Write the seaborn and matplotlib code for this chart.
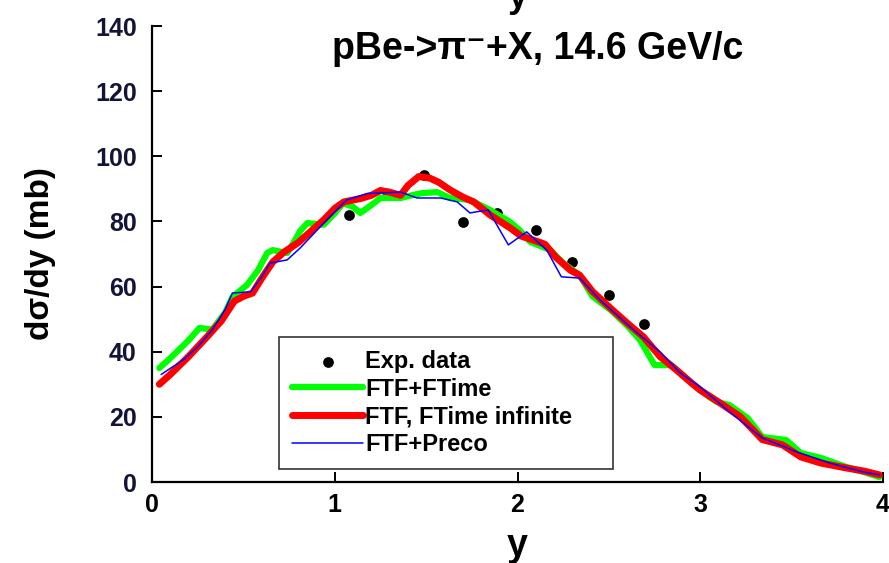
import matplotlib
matplotlib.use("Agg")
import matplotlib.pyplot as plt
import seaborn as sns
import pandas as pd

# ---------------- data ----------------
exp_x = [1.08, 1.29, 1.49, 1.70, 1.89, 2.10, 2.30, 2.50, 2.69]
exp_y = [82.0, 88.5, 94.3, 79.9, 82.5, 77.3, 67.5, 57.5, 48.6]

green_x = [0.04, 0.10, 0.20, 0.26, 0.33, 0.40, 0.44, 0.52, 0.58, 0.63, 0.66, 0.74, 0.78, 0.81,
           0.85, 0.94, 1.00, 1.045, 1.10, 1.14, 1.20, 1.25, 1.36, 1.42, 1.48, 1.56, 1.63, 1.74,
           1.85, 1.96, 2.01, 2.07, 2.18, 2.25, 2.34, 2.41, 2.51, 2.60, 2.67, 2.75, 2.84, 2.95,
           3.05, 3.09, 3.16, 3.26, 3.34, 3.47, 3.55, 3.66, 3.80, 3.90, 3.98]
green_y = [35.0, 38.0, 43.5, 47.3, 46.8, 52.0, 56.8, 60.5, 65.0, 70.3, 71.2, 70.3, 74.0, 77.0,
           79.5, 79.0, 82.5, 85.6, 84.5, 82.6, 85.0, 87.2, 87.2, 88.0, 88.7, 89.0, 87.2, 86.6,
           83.5, 79.8, 77.4, 73.7, 71.2, 67.2, 63.5, 57.0, 52.8, 48.0, 43.6, 35.9, 35.9, 30.5,
           26.1, 24.6, 23.6, 19.6, 13.8, 12.9, 8.9, 7.4, 4.6, 3.0, 1.5]

red_x = [0.04, 0.10, 0.20, 0.30, 0.38, 0.45, 0.50, 0.55, 0.60, 0.66, 0.72, 0.80, 0.86, 0.94,
         1.00, 1.05, 1.14, 1.20, 1.25, 1.30, 1.36, 1.40, 1.46, 1.52, 1.57, 1.63, 1.70, 1.76,
         1.85, 1.96, 2.02, 2.10, 2.15, 2.21, 2.29, 2.34, 2.41, 2.51, 2.60, 2.69, 2.78, 2.87,
         2.95, 3.00, 3.11, 3.22, 3.28, 3.34, 3.45, 3.55, 3.66, 3.80, 3.90, 3.98]
red_y = [30.0, 33.0, 38.5, 44.5, 49.5, 55.5, 57.0, 58.0, 62.5, 67.5, 70.5, 73.5, 76.5, 80.5,
         84.0, 86.0, 87.0, 88.0, 89.5, 89.0, 88.0, 91.0, 93.8, 93.3, 92.0, 89.7, 87.5, 86.0,
         82.0, 78.0, 75.5, 74.0, 73.0, 69.0, 65.0, 63.5, 58.5, 53.3, 48.8, 44.5, 38.5, 34.4,
         30.5, 28.2, 24.2, 20.0, 16.5, 13.0, 11.4, 7.7, 5.8, 4.3, 3.3, 2.2]

blue_x = [0.05, 0.17, 0.25, 0.33, 0.40, 0.44, 0.54, 0.60, 0.645, 0.74, 0.81, 0.94, 1.065, 1.18,
          1.36, 1.45, 1.58, 1.67, 1.74, 1.78, 1.84, 1.95, 2.05, 2.16, 2.24, 2.34, 2.45, 2.55,
          2.65, 2.78, 2.89, 3.00, 3.16, 3.34, 3.53, 3.71, 3.89, 3.98]
blue_y = [33.0, 37.5, 41.5, 46.7, 53.0, 58.0, 58.4, 63.0, 67.2, 68.2, 71.8, 79.5, 86.6, 88.6,
          89.0, 87.2, 87.2, 86.0, 82.6, 83.0, 83.5, 72.8, 76.8, 71.2, 63.0, 62.6, 56.0, 51.0,
          46.0, 40.0, 33.5, 29.2, 21.5, 13.5, 9.2, 5.8, 3.1, 2.2]

labels = ["Exp. data", "FTF+FTime", "FTF, FTime infinite", "FTF+Preco"]
x_ticks = [0, 1, 2, 3, 4]
y_ticks = [0, 20, 40, 60, 80, 100, 120, 140]

# ---------------- style ----------------
sns.set_theme(style="ticks")
plt.rcParams['font.family'] = ['Liberation Sans', 'DejaVu Sans']
plt.rcParams['text.color'] = 'black'
plt.rcParams['axes.labelcolor'] = 'black'
plt.rcParams['xtick.color'] = 'black'
plt.rcParams['ytick.color'] = 'black'

fig = plt.figure(figsize=(8.89, 5.63), dpi=100)
ax = fig.add_axes([152/889, 1-482/563, 731/889, 456/563])

exp_df = pd.DataFrame({"y": exp_x, "v": exp_y})
g_df = pd.DataFrame({"y": green_x, "v": green_y})
r_df = pd.DataFrame({"y": red_x, "v": red_y})
b_df = pd.DataFrame({"y": blue_x, "v": blue_y})

sns.scatterplot(data=exp_df, x="y", y="v", ax=ax, color="black", s=60, marker="o",
                edgecolor="black", linewidth=0, zorder=2, label=labels[0])
sns.lineplot(data=g_df, x="y", y="v", ax=ax, color="#00ff00", linewidth=4.5, sort=False,
             zorder=3, label=labels[1])
sns.lineplot(data=r_df, x="y", y="v", ax=ax, color="#ff0000", linewidth=5.0, sort=False,
             zorder=4, label=labels[2])
sns.lineplot(data=b_df, x="y", y="v", ax=ax, color="#0000ff", linewidth=1.1, sort=False,
             zorder=5, label=labels[3])

ax.set_xlim(0, 4)
ax.set_ylim(0, 140)
ax.set_xticks(x_ticks)
ax.set_yticks(y_ticks)
ax.set_xticklabels([str(t) for t in x_ticks], fontsize=18, fontweight='bold')
ax.set_yticklabels([str(t) for t in y_ticks], fontsize=18, fontweight='bold',
                   color="#14143a")
ax.tick_params(direction='in', length=7, width=1.4, pad=8)
ax.tick_params(axis='y', pad=11)
for s in ['top', 'right']:
    ax.spines[s].set_visible(False)
for s in ['left', 'bottom']:
    ax.spines[s].set_linewidth(1.6)
    ax.spines[s].set_color('black')

ax.set_xlabel("y", fontsize=27, fontweight='bold', labelpad=8)
ax.set_ylabel("dσ/dy (mb)", fontsize=24, fontweight='bold', labelpad=28)

ax.text(0.528, 0.950, "pBe->π⁻+X, 14.6 GeV/c", transform=ax.transAxes, ha='center',
        va='center', fontsize=27, fontweight='bold', color='black')

fig.text(518/889, 1-7/563, "y", ha='center', va='baseline', fontsize=26, fontweight='bold')

leg = ax.legend(loc='upper left', bbox_to_anchor=(0.174, 0.042, 0.457, 0.276), mode='expand',
                frameon=True, fancybox=False,
                edgecolor='black', prop={'weight': 'bold', 'size': 17},
                handlelength=3.0, handletextpad=0.1, borderpad=0.55, labelspacing=0.2,
                borderaxespad=0)
leg.get_frame().set_linewidth(1.2)
leg.get_frame().set_boxstyle('square', pad=0)
for t in leg.get_texts():
    t.set_color('black')

fig.savefig("out.png", dpi=100)
